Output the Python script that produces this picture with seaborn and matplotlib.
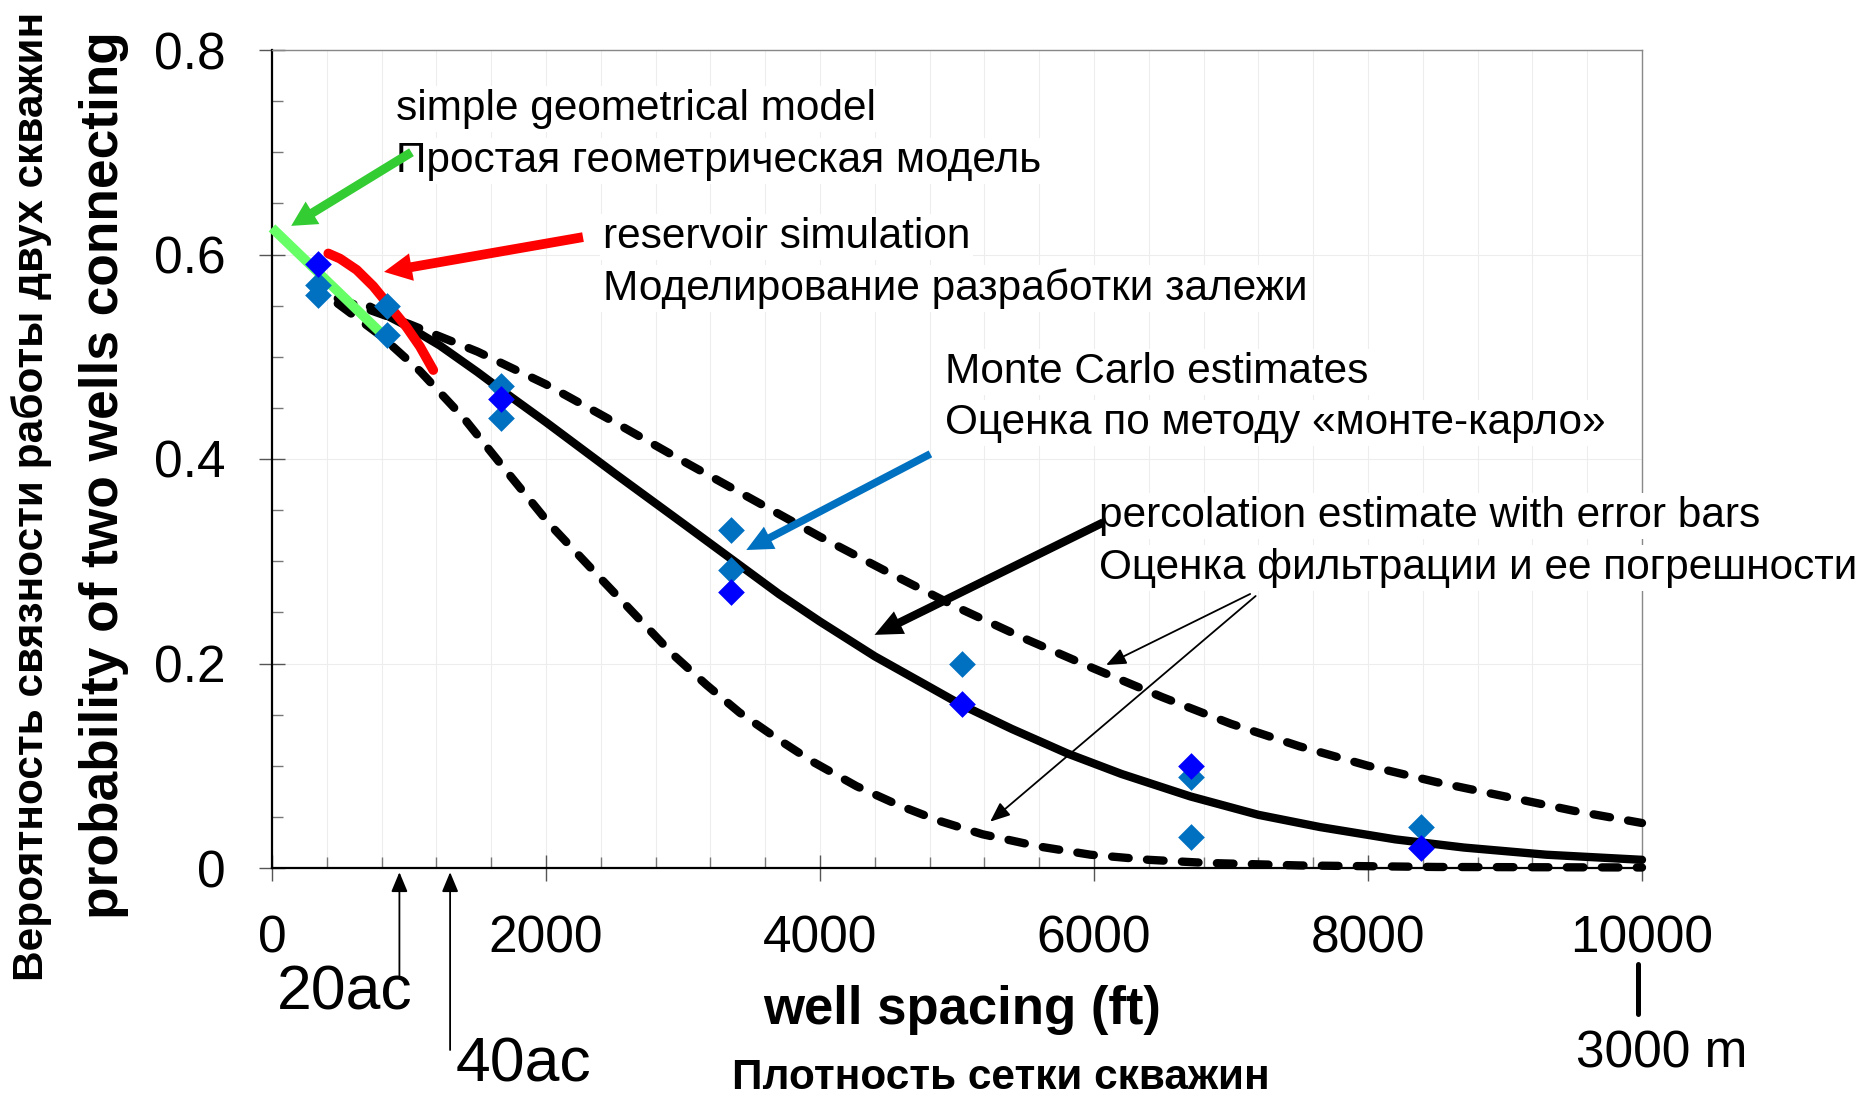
import matplotlib
matplotlib.use("Agg")
import matplotlib.pyplot as plt
from matplotlib.ticker import MultipleLocator
from matplotlib.lines import Line2D
import seaborn as sns

# ---------------- data ----------------
# Monte Carlo estimates, two marker colours
mc_light_x = [333, 333, 837, 837, 1675, 1675, 3353, 3353, 5033, 6710, 6710, 8388]
mc_light_y = [0.570, 0.560, 0.550, 0.521, 0.471, 0.440, 0.331, 0.291, 0.200, 0.089, 0.030, 0.040]
mc_dark_x = [333, 1675, 3353, 5033, 6710, 8388]
mc_dark_y = [0.591, 0.459, 0.270, 0.160, 0.100, 0.020]

# percolation estimate (solid) with error bars (dashed)
perc_x = [715, 1000, 1225, 1500, 1680, 2000, 2500, 3000, 3355, 3700, 4000, 4400, 4800, 5026,
          5400, 5806, 6200, 6703, 7200, 7651, 8200, 8700, 9300, 10000]
perc_y = [0.549, 0.529, 0.511, 0.485, 0.467, 0.436, 0.386, 0.337, 0.302, 0.268, 0.241, 0.207,
          0.177, 0.160, 0.136, 0.112, 0.092, 0.070, 0.052, 0.040, 0.028, 0.020, 0.013, 0.008]
upper_x = [480, 1000, 1500, 2000, 2500, 3000, 3500, 4000, 4500, 5000, 5500, 6000, 6500, 7000,
           7500, 8000, 8500, 9000, 9500, 10000]
upper_y = [0.557, 0.532, 0.505, 0.473, 0.436, 0.398, 0.361, 0.324, 0.289, 0.255, 0.224, 0.195,
           0.167, 0.141, 0.119, 0.100, 0.084, 0.070, 0.056, 0.044]
lower_x = [480, 800, 1080, 1400, 1700, 2028, 2400, 2684, 2925, 3172, 3413, 3705, 3946, 4267,
           4581, 4872, 5186, 5600, 5974, 6400, 6812, 7500, 8500, 10000]
lower_y = [0.552, 0.520, 0.486, 0.440, 0.390, 0.336, 0.283, 0.243, 0.209, 0.179, 0.152, 0.125,
           0.104, 0.080, 0.061, 0.046, 0.033, 0.021, 0.013, 0.008, 0.005, 0.0025, 0.001, 0.0005]

# simple geometrical model (green) and reservoir simulation (red)
geo_x = [0, 790]
geo_y = [0.626, 0.524]
res_x = [411, 496, 618, 739, 861, 982, 1080, 1177]
res_y = [0.601, 0.596, 0.585, 0.569, 0.549, 0.529, 0.510, 0.487]

x_ticks = [0, 2000, 4000, 6000, 8000, 10000]
y_ticks = [0, 0.2, 0.4, 0.6, 0.8]
y_tick_labels = ["0", "0.2", "0.4", "0.6", "0.8"]
acre_x = [930, 1300]
acre_labels = ["20ac", "40ac"]

# ---------------- style ----------------
sns.set_style("white")
plt.rcParams["font.family"] = ["Liberation Sans", "DejaVu Sans"]
plt.rcParams["text.color"] = "black"
plt.rcParams["axes.labelcolor"] = "black"
plt.rcParams["xtick.color"] = "black"
plt.rcParams["ytick.color"] = "black"

fig = plt.figure(figsize=(18.71, 10.96), dpi=100)
ax = fig.add_axes([272 / 1871, 1 - 868 / 1096, (1642 - 272) / 1871, (868 - 50) / 1096])

# curves
sns.lineplot(x=upper_x, y=upper_y, ax=ax, color="black", linewidth=6, sort=False, estimator=None)
sns.lineplot(x=lower_x, y=lower_y, ax=ax, color="black", linewidth=6, sort=False, estimator=None)
for ln in ax.lines:
    ln.set_dashes([2.0, 2.2])
    ln.set_dash_capstyle("round")
sns.lineplot(x=perc_x, y=perc_y, ax=ax, color="black", linewidth=6, sort=False, estimator=None)
sns.lineplot(x=geo_x, y=geo_y, ax=ax, color="#66FF66", linewidth=7, sort=False, estimator=None)
sns.lineplot(x=res_x, y=res_y, ax=ax, color="#FF0000", linewidth=7, sort=False, estimator=None)
for ln in ax.lines:
    ln.set_clip_on(False)
    ln.set_zorder(3)
    ln.set_solid_joinstyle("round")
ax.lines[3].set_solid_capstyle("butt")
ax.lines[4].set_solid_capstyle("round")

# markers
sns.scatterplot(x=mc_light_x, y=mc_light_y, ax=ax, marker="D", s=185, color="#0070C0",
                linewidth=0, zorder=4, clip_on=False)
sns.scatterplot(x=mc_dark_x, y=mc_dark_y, ax=ax, marker="D", s=185, color="#0000FF",
                linewidth=0, zorder=4.5, clip_on=False)

# axes
ax.set_xlim(0, 10000)
ax.set_ylim(0, 0.8)
ax.set_xticks(x_ticks)
ax.set_xticklabels([str(v) for v in x_ticks])
ax.set_yticks(y_ticks)
ax.set_yticklabels(y_tick_labels)
ax.xaxis.set_minor_locator(MultipleLocator(400))
ax.yaxis.set_minor_locator(MultipleLocator(0.05))
ax.tick_params(which="major", direction="inout", length=19, width=1, color="#555555",
               labelcolor="black", labelsize=37, pad=24, bottom=True, left=True)
ax.tick_params(which="minor", direction="in", length=8, width=1, color="#777777",
               bottom=True, left=True)
ax.grid(which="both", axis="x", color="#EDEDED", linewidth=0.8)
ax.grid(which="major", axis="y", color="#EDEDED", linewidth=0.8)
ax.set_axisbelow(True)
for side in ["top", "right"]:
    ax.spines[side].set_color("#888888")
    ax.spines[side].set_linewidth(1)
for side in ["left", "bottom"]:
    ax.spines[side].set_color("black")
    ax.spines[side].set_linewidth(1.6)

# annotation texts
box = dict(facecolor="white", edgecolor="none", pad=2)
txt = [
    (904, 0.7315, "simple geometrical model"),
    (904, 0.6807, "Простая геометрическая модель"),
    (2414, 0.6064, "reservoir simulation"),
    (2414, 0.5555, "Моделирование разработки залежи"),
    (4916, 0.4743, "Monte Carlo estimates"),
    (4916, 0.4244, "Оценка по методу «монте-карло»"),
    (6039, 0.3335, "percolation estimate with error bars"),
    (6039, 0.2826, "Оценка фильтрации и ее погрешности"),
]
for x, y, s in txt:
    ax.text(x, y, s, fontsize=30.5, color="black", ha="left", va="baseline", bbox=box,
            zorder=5, clip_on=False)

def big_arrow(tail, tip, color, tw=0.65, hw=1.9, hl=1.8):
    ax.annotate("", xy=tip, xytext=tail, annotation_clip=False, zorder=6,
                arrowprops=dict(arrowstyle=f"simple,head_length={hl},head_width={hw},tail_width={tw}",
                                color=color, lw=0, mutation_scale=10, shrinkA=0, shrinkB=0))

big_arrow((1018, 0.700), (140, 0.628), "#33CC33")
big_arrow((2270, 0.617), (818, 0.583), "#FF0000", tw=0.7, hw=2.0, hl=2.0)
big_arrow((4806, 0.405), (3462, 0.311), "#0070C0", tw=0.55, hw=1.8, hl=1.9)
big_arrow((6068, 0.338), (4398, 0.228), "black", tw=0.6, hw=1.8, hl=2.0)

thin = dict(arrowstyle="-|>,head_length=0.6,head_width=0.25", color="black", lw=1.3,
            mutation_scale=20, shrinkA=0, shrinkB=0)
ax.annotate("", xy=(6088, 0.1985), xytext=(7140, 0.268), arrowprops=thin, zorder=6, annotation_clip=False)
ax.annotate("", xy=(5242, 0.0453), xytext=(7180, 0.266), arrowprops=thin, zorder=6, annotation_clip=False)

# 20ac / 40ac markers below the axis
acre_tail = [1 - 976 / 1096, 1 - 1050 / 1096]
for xv, ty in zip(acre_x, acre_tail):
    ax.annotate("", xy=(xv, 0), xycoords="data", xytext=(xv, ty), textcoords=("data", "figure fraction"),
                annotation_clip=False,
                arrowprops=dict(arrowstyle="-|>,head_length=0.6,head_width=0.25", color="black", lw=1.3,
                                mutation_scale=20, shrinkA=0, shrinkB=3))
fig.text(345 / 1871, 1 - 1009 / 1096, acre_labels[0], fontsize=45, ha="center", va="baseline")
fig.text(523 / 1871, 1 - 1081 / 1096, acre_labels[1], fontsize=45, ha="center", va="baseline")

# 3000 m marker
fig.add_artist(Line2D([1638 / 1871, 1638 / 1871], [1 - 1014 / 1096, 1 - 964 / 1096],
                      transform=fig.transFigure, color="black", linewidth=3.6))
fig.text(1662 / 1871, 1 - 1067 / 1096, "3000 m", fontsize=37, ha="center", va="baseline")

# axis titles
fig.text(962 / 1871, 1 - 1024 / 1096, "well spacing (ft)", fontsize=38, fontweight="bold",
         ha="center", va="baseline")
fig.text(1001 / 1871, 1 - 1089 / 1096, "Плотность сетки скважин", fontsize=30.5, fontweight="bold",
         ha="center", va="baseline")
fig.text(104 / 1871, 1 - 475 / 1096, "probability of two wells connecting", fontsize=38.3,
         fontweight="bold", rotation=90, ha="center", va="center")
fig.text(32 / 1871, 1 - 496 / 1096, "Вероятность связности работы двух скважин", fontsize=30.5,
         fontweight="bold", rotation=90, ha="center", va="center")

fig.savefig("out.png", dpi=100)
